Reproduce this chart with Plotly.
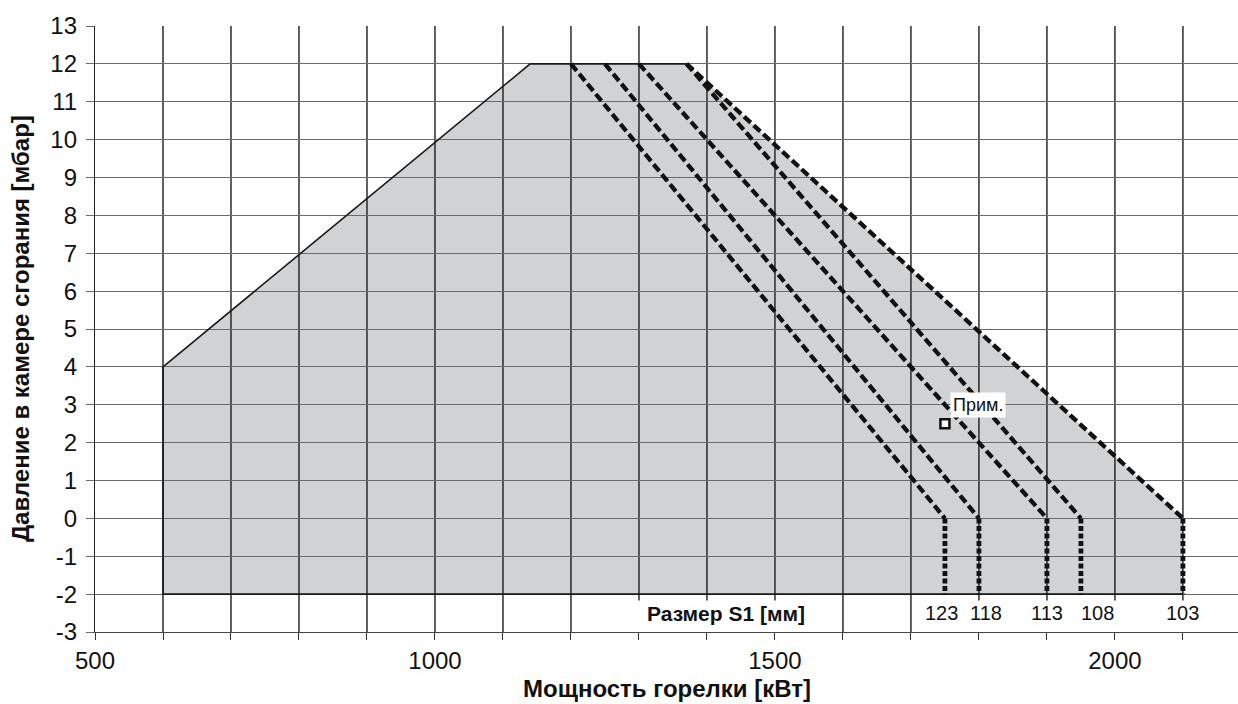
import plotly.graph_objects as go

# ---- data ----
s1_labels = ["123", "118", "113", "108", "103"]
s1_top_x = [1200, 1250, 1300, 1370, 1370]      # kW at 12 mbar
s1_zero_x = [1750, 1800, 1900, 1950, 2100]     # kW at 0 mbar
s1_label_x = [1745, 1810, 1900, 1975, 2100]
top_p = 12
zero_p = 0
bottom_p = -2

env_x = [600, 600, 1140, 1370, 2100, 2100]
env_y = [-2, 4, 12, 12, 0, -2]

grid_x = list(range(600, 2200, 100))
grid_full_x = [600, 700, 800, 900, 1000, 1100, 1200, 1600, 1700]
x_tick_vals = list(range(500, 2200, 100))
x_tick_labels = ["500", "1000", "1500", "2000"]
y_ticks = list(range(-3, 14))

example_x = 1750
example_y = 2.5

FONT = "Liberation Sans, Arial, sans-serif"

fig = go.Figure()

shapes = []
# envelope fill (below gridlines)
path = "M " + " L ".join(f"{x},{y}" for x, y in zip(env_x, env_y)) + " Z"
shapes.append(dict(type="path", path=path, xref="x", yref="y", layer="below",
                   fillcolor="#d1d2d4", line=dict(width=0)))
# vertical gridlines
for gx in grid_x:
    y0 = -3 if gx in grid_full_x else bottom_p
    shapes.append(dict(type="line", xref="x", yref="y", x0=gx, x1=gx, y0=y0, y1=13,
                       layer="below", line=dict(color="#1c1c1c", width=1.4)))
    if gx not in grid_full_x:
        shapes.append(dict(type="line", xref="x", yref="y", x0=gx, x1=gx, y0=bottom_p, y1=bottom_p - 0.17,
                           layer="below", line=dict(color="#1c1c1c", width=1.4)))
fig.update_layout(shapes=shapes)

# envelope border (solid part)
fig.add_trace(go.Scatter(x=[2100] + env_x[:4], y=[-2] + env_y[:4], mode="lines",
                         line=dict(color="#1a1a1a", width=1.6), hoverinfo="skip", showlegend=False))

# S1 dashed lines
for tx, zx in zip(s1_top_x, s1_zero_x):
    fig.add_trace(go.Scatter(x=[tx, zx], y=[top_p, zero_p], mode="lines",
                             line=dict(color="#111111", width=4.3, dash="9px,4px"),
                             hoverinfo="skip", showlegend=False))
    fig.add_trace(go.Scatter(x=[zx, zx], y=[zero_p, bottom_p], mode="lines",
                             line=dict(color="#111111", width=4.8, dash="5px,2.5px"),
                             hoverinfo="skip", showlegend=False))

# example point
fig.add_trace(go.Scatter(x=[example_x], y=[example_y], mode="markers",
                         marker=dict(symbol="square", size=9, color="white",
                                     line=dict(color="#111111", width=2.5)),
                         hoverinfo="skip", showlegend=False))

annotations = []
annotations.append(dict(x=example_x + 8, y=example_y + 0.5, xref="x", yref="y", text="Прим.",
                        showarrow=False, xanchor="left", yanchor="middle", bgcolor="white",
                        borderpad=2, font=dict(family=FONT, size=18, color="#111")))
for lx, lab in zip(s1_label_x, s1_labels):
    annotations.append(dict(x=lx, y=-2.5, xref="x", yref="y", text=lab, showarrow=False,
                            font=dict(family=FONT, size=20, color="#111")))
annotations.append(dict(x=1428, y=-2.5, xref="x", yref="y", text="<b>Размер S1 [мм]</b>",
                        showarrow=False, font=dict(family=FONT, size=21, color="#111")))
annotations.append(dict(x=0.5, y=0, xref="paper", yref="paper", yshift=-56,
                        text="<b>Мощность горелки [кВт]</b>", showarrow=False,
                        yanchor="middle", font=dict(family=FONT, size=24, color="#111")))
annotations.append(dict(x=0, y=0.5, xref="paper", yref="paper", xshift=-75,
                        text="<b>Давление в камере сгорания [мбар]</b>", showarrow=False,
                        textangle=-90, xanchor="center", yanchor="middle",
                        font=dict(family=FONT, size=24, color="#111")))

fig.update_layout(
    width=1238, height=704,
    margin=dict(l=95, r=0, t=26, b=72),
    paper_bgcolor="white", plot_bgcolor="white",
    annotations=annotations,
    font=dict(family=FONT, size=24, color="#111"),
    xaxis=dict(range=[500, 2181], tickvals=x_tick_vals,
               ticktext=[str(v) if str(v) in x_tick_labels else "" for v in x_tick_vals],
               showgrid=False, zeroline=False, showline=True, linecolor="#444", linewidth=1,
               ticks="outside", ticklen=7, tickcolor="#333", tickwidth=1.3,
               tickfont=dict(family=FONT, size=24, color="#111")),
    yaxis=dict(range=[-3, 13], tickvals=y_ticks, ticktext=[str(v) for v in y_ticks],
               showgrid=True, gridcolor="#6a6a6a", gridwidth=1, zeroline=False,
               showline=True, linecolor="#222", linewidth=1.3,
               ticks="outside", ticklen=8, tickcolor="#6a6a6a", tickwidth=1,
               ticklabelstandoff=4,
               tickfont=dict(family=FONT, size=24, color="#111")),
)

fig.write_html("out.html", config={"displayModeBar": False},
               post_script="document.body.style.margin='0';document.body.style.overflow='hidden';")
